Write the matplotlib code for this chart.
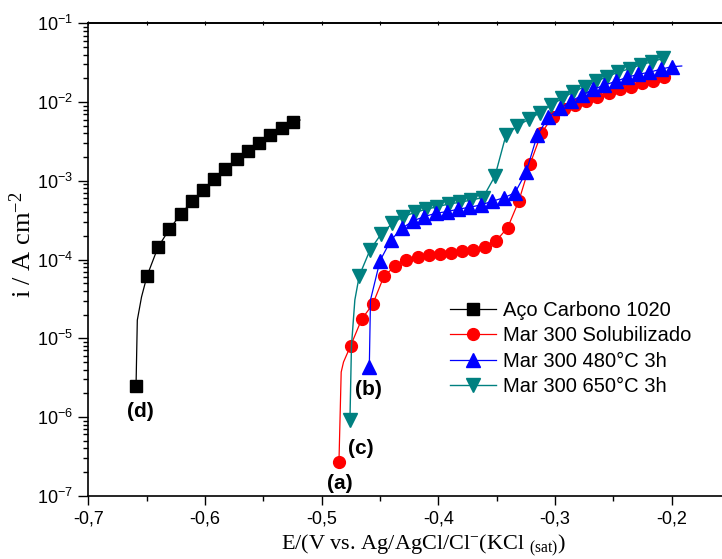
import numpy as np
import matplotlib
matplotlib.use("Agg")
import matplotlib.pyplot as plt
from matplotlib.ticker import MultipleLocator, FuncFormatter, LogLocator, LogFormatterMathtext, NullFormatter

plt.rcParams['font.family'] = ['Liberation Sans', 'DejaVu Sans']
plt.rcParams['mathtext.default'] = 'regular'
plt.rcParams['axes.unicode_minus'] = False

# polarization curves: E (V) vs i (A cm-2)
aco_E = [-0.6591, -0.6580, -0.6544, -0.6497, -0.6403, -0.6306, -0.6208, -0.6111, -0.6017,
         -0.5923, -0.5826, -0.5728, -0.5632, -0.5535, -0.5440, -0.5343, -0.5249, -0.5186]
aco_i = [2.47e-6, 1.70e-5, 3.34e-5, 6.17e-5, 1.43e-4, 2.42e-4, 3.75e-4, 5.53e-4, 7.69e-4,
         1.06e-3, 1.41e-3, 1.87e-3, 2.41e-3, 3.04e-3, 3.81e-3, 4.64e-3, 5.57e-3, 5.91e-3]
aco_noMark = [1, 2, 17]

sol_E = [-0.4852, -0.4833, -0.4813, -0.4752, -0.4657, -0.4563, -0.4466, -0.4369, -0.4275,
         -0.4177, -0.4083, -0.3986, -0.3892, -0.3795, -0.3701, -0.3603, -0.3506, -0.3406,
         -0.3311, -0.3215, -0.3118, -0.3021, -0.2924, -0.2829, -0.2735, -0.2638, -0.2541,
         -0.2446, -0.2350, -0.2253, -0.2159, -0.2064]
sol_i = [2.70e-7, 3.72e-6, 4.99e-6, 8.04e-6, 1.75e-5, 2.70e-5, 6.17e-5, 8.26e-5, 9.86e-5,
         1.07e-4, 1.14e-4, 1.17e-4, 1.21e-4, 1.27e-4, 1.32e-4, 1.45e-4, 1.72e-4, 2.55e-4,
         5.53e-4, 1.62e-3, 4.01e-3, 6.52e-3, 8.09e-3, 9.16e-3, 1.04e-2, 1.15e-2, 1.29e-2,
         1.45e-2, 1.57e-2, 1.73e-2, 1.87e-2, 2.06e-2]
sol_noMark = [1, 2]

t480_E = [-0.4592, -0.4582, -0.4500, -0.4406, -0.4312, -0.4215, -0.4121, -0.4023, -0.3929,
          -0.3835, -0.3738, -0.3638, -0.3538, -0.3440, -0.3344, -0.3249, -0.3153, -0.3058,
          -0.2958, -0.2864, -0.2767, -0.2673, -0.2578, -0.2481, -0.2384, -0.2287, -0.2193,
          -0.2095, -0.2001, -0.1915]
t480_i = [4.34e-6, 3.06e-5, 9.66e-5, 1.77e-4, 2.49e-4, 3.11e-4, 3.50e-4, 3.87e-4, 4.05e-4,
          4.34e-4, 4.60e-4, 4.92e-4, 5.50e-4, 6.08e-4, 7.03e-4, 1.28e-3, 3.78e-3, 6.40e-3,
          8.32e-3, 1.02e-2, 1.23e-2, 1.45e-2, 1.64e-2, 1.83e-2, 2.06e-2, 2.25e-2, 2.39e-2,
          2.61e-2, 2.81e-2, 2.87e-2]
t480_noMark = [1, 29]

t650_E = [-0.4758, -0.4745, -0.4716, -0.4678, -0.4586, -0.4492, -0.4395, -0.4301, -0.4200,
          -0.4106, -0.4009, -0.3912, -0.3815, -0.3718, -0.3618, -0.3515, -0.3421, -0.3324,
          -0.3226, -0.3129, -0.3035, -0.2938, -0.2844, -0.2744, -0.2649, -0.2553, -0.2458,
          -0.2361, -0.2264, -0.2170, -0.2073]
t650_i = [9.14e-7, 7.96e-6, 3.06e-5, 6.22e-5, 1.32e-4, 2.09e-4, 2.88e-4, 3.50e-4, 3.97e-4,
          4.34e-4, 4.69e-4, 5.07e-4, 5.33e-4, 5.70e-4, 6.12e-4, 1.15e-3, 3.81e-3, 4.97e-3,
          6.04e-3, 7.31e-3, 9.16e-3, 1.11e-2, 1.35e-2, 1.57e-2, 1.83e-2, 2.10e-2, 2.40e-2,
          2.65e-2, 2.98e-2, 3.25e-2, 3.59e-2]
t650_noMark = [1, 2]

labels = ['Aço Carbono 1020', 'Mar 300 Solubilizado', 'Mar 300 480°C 3h', 'Mar 300 650°C 3h']

# curve tags (text, E, i)
tags = [('(d)', -0.6554, 1.16e-6), ('(b)', -0.4601, 2.22e-6),
        ('(c)', -0.4667, 4.0e-7), ('(a)', -0.4846, 1.41e-7)]


def marks(n, skip):
    return [k for k in range(n) if k not in skip]


fig = plt.figure(figsize=(7.22, 5.59), dpi=100)
ax = fig.add_axes([0.1223, 0.1132, 0.8809, 0.8451])

h1, = ax.plot(aco_E, aco_i, '-', color='black', lw=0.9, marker='s', ms=8,
              markevery=marks(len(aco_E), aco_noMark), label=labels[0], zorder=2)
h2, = ax.plot(sol_E, sol_i, '-', color='#ff0000', lw=0.9, marker='o', ms=8.5,
              markevery=marks(len(sol_E), sol_noMark), label=labels[1], zorder=3)
h4, = ax.plot(t650_E, t650_i, '-', color='#008080', lw=1.0, marker='v', ms=9.5,
              markevery=marks(len(t650_E), t650_noMark), label=labels[3], zorder=4)
h3, = ax.plot(t480_E, t480_i, '-', color='#0000ff', lw=0.9, marker='^', ms=9.5,
              markevery=marks(len(t480_E), t480_noMark), label=labels[2], zorder=5)

for txt, e, i in tags:
    ax.text(e, i, txt, fontsize=15, fontweight='bold', ha='center', va='center')

ax.set_yscale('log')
ax.set_xlim(-0.7, -0.155)
ax.set_ylim(1e-7, 1e-1)

ax.xaxis.set_major_locator(MultipleLocator(0.1))
ax.xaxis.set_minor_locator(MultipleLocator(0.05))
ax.xaxis.set_major_formatter(FuncFormatter(lambda v, p: ('%.1f' % v).replace('.', ',')))
ax.yaxis.set_major_locator(LogLocator(base=10, numticks=10))
ax.yaxis.set_minor_locator(LogLocator(base=10, subs=np.arange(2, 10), numticks=20))
ax.yaxis.set_major_formatter(LogFormatterMathtext())
ax.yaxis.set_minor_formatter(NullFormatter())

ax.tick_params(axis='both', which='major', direction='out', labelsize=13, width=1)
ax.tick_params(axis='x', which='major', length=6.5, pad=4)
ax.tick_params(axis='x', which='minor', direction='out', length=3.5, width=1)
ax.tick_params(axis='y', which='major', length=7, pad=4)
ax.tick_params(axis='y', which='minor', direction='out', length=3.5, width=1)

# short marks on the top frame
top = ax.secondary_xaxis('top')
top.xaxis.set_major_locator(MultipleLocator(0.1))
top.xaxis.set_minor_locator(MultipleLocator(0.05))
top.tick_params(which='both', direction='inout', length=2.5, width=0.8, labeltop=False)
top.spines['top'].set_linewidth(1.2)

for s in ax.spines.values():
    s.set_linewidth(1.2)

ax.set_xlabel(r'E/(V vs. Ag/AgCl/Cl$^{-}$(KCl $_{(sat)}$)', family='Liberation Serif', fontsize=16, labelpad=2)
ax.xaxis.set_label_coords((423 - 88.3) / 636.0, -0.078)
ax.set_ylabel(r'i / A cm$^{-2}$', family='Liberation Serif', fontsize=19)
ax.yaxis.set_label_coords(-0.082, 0.531)

ax.legend(handles=[h1, h2, h3, h4], loc='upper left', frameon=False, fontsize=14.5,
          bbox_to_anchor=(450 / 722, 0.462), bbox_transform=fig.transFigure,
          borderpad=0, borderaxespad=0, handlelength=2.3, handletextpad=0.33,
          labelspacing=0.32)

fig.savefig('out.png', dpi=100)
